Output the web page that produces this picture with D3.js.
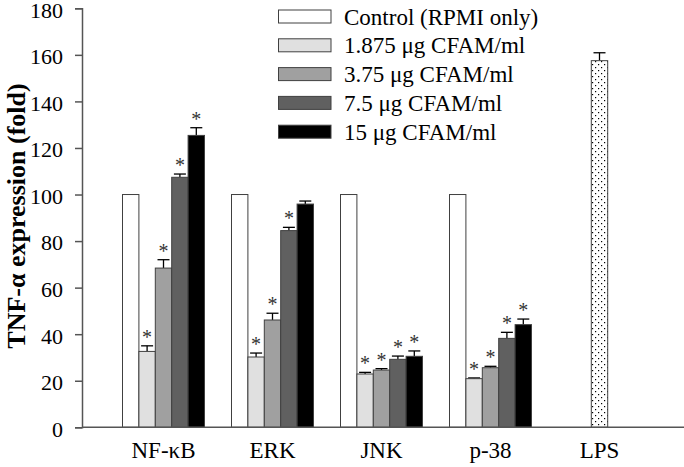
<!DOCTYPE html>
<html>
<head>
<meta charset="utf-8">
<script src="https://cdn.jsdelivr.net/npm/d3@7"></script>
<style>
  html, body { margin: 0; padding: 0; background: #fff; }
  svg { display: block; }
</style>
</head>
<body>
<svg id="chart" width="684" height="467"></svg>
<script>
// ---- data ----
const categories = ["NF-κB", "ERK", "JNK", "p-38", "LPS"];
const groups = ["NF-κB", "ERK", "JNK", "p-38"];
const seriesNames = ["Control (RPMI only)", "1.875 μg CFAM/ml", "3.75 μg CFAM/ml", "7.5 μg CFAM/ml", "15 μg CFAM/ml"];
const seriesColors = ["#ffffff", "#e0e0e0", "#a0a0a0", "#606060", "#000000"];
const controlVals = [100, 100, 100, 100];
const controlErr = [0, 0, 0, 0];
const c1875Vals = [32.6, 30.2, 22.9, 20.9];
const c1875Err = [2.4, 1.7, 0.7, 0.3];
const c375Vals = [68.4, 46.1, 24.6, 25.6];
const c375Err = [3.6, 2.9, 0.6, 0.6];
const c75Vals = [107.4, 84.5, 29.2, 38.2];
const c75Err = [1.4, 1.4, 1.4, 2.6];
const c15Vals = [125.4, 95.9, 30.5, 44.1];
const c15Err = [3.3, 1.3, 2.3, 2.4];
const controlSig = [false, false, false, false];
const c1875Sig = [true, true, true, true];
const c375Sig = [true, true, true, true];
const c75Sig = [true, true, true, true];
const c15Sig = [true, false, true, true];
const lpsVal = 157.5;
const lpsErr = 3.4;
const yTicks = [0, 20, 40, 60, 80, 100, 120, 140, 160, 180];
const yTitle = "TNF-α expression (fold)";

const seriesVals = [controlVals, c1875Vals, c375Vals, c75Vals, c15Vals];
const seriesErr = [controlErr, c1875Err, c375Err, c75Err, c15Err];
const seriesSig = [controlSig, c1875Sig, c375Sig, c75Sig, c15Sig];

// ---- layout ----
const FONT = "Liberation Serif";
const svg = d3.select("#chart");
const axisColor = "#555";
const x = d3.scaleBand().domain(categories).range([109, 654]).padding(0);
const inner = d3.scaleBand().domain(seriesNames).range([13.5, 95.5]).padding(0);
const y = d3.scaleLinear().domain([0, 180]).range([427.3, 8.3]);

// pattern for LPS
const defs = svg.append("defs");
const pat = defs.append("pattern").attr("id", "dots").attr("patternUnits", "userSpaceOnUse")
  .attr("width", 6).attr("height", 6);
pat.append("rect").attr("width", 6).attr("height", 6).attr("fill", "#fff");
pat.append("rect").attr("x", 1).attr("y", 1).attr("width", 1.2).attr("height", 1.2).attr("fill", "#000");
pat.append("rect").attr("x", 4).attr("y", 4).attr("width", 1.2).attr("height", 1.2).attr("fill", "#000");

// bars data
const bars = [];
groups.forEach((g, gi) => {
  seriesNames.forEach((s, si) => {
    bars.push({ g, s, si, v: seriesVals[si][gi], e: seriesErr[si][gi], sig: seriesSig[si][gi] });
  });
});

const barG = svg.append("g");
const errData = bars.filter(d => d.e > 0);
const errG = barG.append("g").attr("stroke", "#000").attr("stroke-width", 1.3);
errData.forEach(d => {
  const cx = x(d.g) + inner(d.s) + inner.bandwidth() / 2;
  errG.append("line").attr("x1", cx).attr("x2", cx).attr("y1", y(d.v)).attr("y2", y(d.v + d.e));
  errG.append("line").attr("x1", cx - 6).attr("x2", cx + 6).attr("y1", y(d.v + d.e)).attr("y2", y(d.v + d.e));
});
{
  const cx = x("LPS") + x.bandwidth() / 2;
  errG.append("line").attr("x1", cx).attr("x2", cx).attr("y1", y(lpsVal)).attr("y2", y(lpsVal + lpsErr));
  errG.append("line").attr("x1", cx - 6).attr("x2", cx + 6).attr("y1", y(lpsVal + lpsErr)).attr("y2", y(lpsVal + lpsErr));
}

barG.selectAll("rect.bar").data(bars).join("rect")
  .attr("class", "bar")
  .attr("x", d => x(d.g) + inner(d.s))
  .attr("width", inner.bandwidth())
  .attr("y", d => y(d.v))
  .attr("height", d => y(0) - y(d.v))
  .attr("fill", d => seriesColors[d.si])
  .attr("stroke", "#404040").attr("stroke-width", 1);

barG.append("rect")
  .attr("x", x("LPS") + x.bandwidth() / 2 - inner.bandwidth() / 2)
  .attr("width", inner.bandwidth())
  .attr("y", y(lpsVal))
  .attr("height", y(0) - y(lpsVal))
  .attr("fill", "url(#dots)")
  .attr("stroke", "#404040").attr("stroke-width", 1);

// asterisks
barG.selectAll("text.sig").data(bars.filter(d => d.sig)).join("text")
  .attr("class", "sig")
  .attr("x", d => x(d.g) + inner(d.s) + inner.bandwidth() / 2)
  .attr("y", d => y(d.v + d.e) - 2)
  .attr("text-anchor", "middle")
  .style("font-family", FONT)
  .style("font-size", "20px")
  .attr("fill", "#333")
  .text("*");

// axes
const yAxis = d3.axisLeft(y).tickValues(yTicks).tickSize(7).tickPadding(12).tickFormat(d3.format("d"));
const yg = svg.append("g").attr("transform", "translate(82,0)").call(yAxis);
yg.attr("font-family", null).attr("font-size", null);
yg.select(".domain").attr("stroke", axisColor).attr("stroke-width", 1.5);
yg.selectAll(".tick line").attr("stroke", axisColor).attr("stroke-width", 1.5);
yg.selectAll(".tick text").attr("dy", "0.4em")
  .style("font-size", "22px").style("font-family", FONT).attr("fill", "#000");

const xAxis = d3.axisBottom(x).tickSize(0).tickPadding(14);
const xg = svg.append("g").attr("transform", `translate(0,${y(0)})`).call(xAxis);
xg.attr("font-family", null).attr("font-size", null);
xg.select(".domain").remove();
xg.append("line").attr("x1", 82).attr("x2", 684).attr("y1", 0).attr("y2", 0)
  .attr("stroke", axisColor).attr("stroke-width", 1.5);
xg.selectAll(".tick text").style("font-size", "23px").style("font-family", FONT).attr("fill", "#000");

// y title
svg.append("text")
  .attr("transform", "translate(25,216) rotate(-90)")
  .attr("text-anchor", "middle")
  .style("font-family", FONT)
  .style("font-size", "26px")
  .style("font-weight", "bold")
  .text(yTitle);

// legend
const legRowY = d3.scaleLinear().domain([0, 4]).range([16.5, 131.7]);
const leg = svg.append("g");
seriesNames.forEach((s, i) => {
  const cy = legRowY(i);
  leg.append("rect").attr("x", 278.5).attr("y", cy - 6.5).attr("width", 52.5).attr("height", 13)
    .attr("fill", seriesColors[i]).attr("stroke", "#404040").attr("stroke-width", 1);
  leg.append("text").attr("x", 344).attr("y", cy + 8)
    .style("font-family", FONT).style("font-size", "23px").text(s);
});
</script>
</body>
</html>
